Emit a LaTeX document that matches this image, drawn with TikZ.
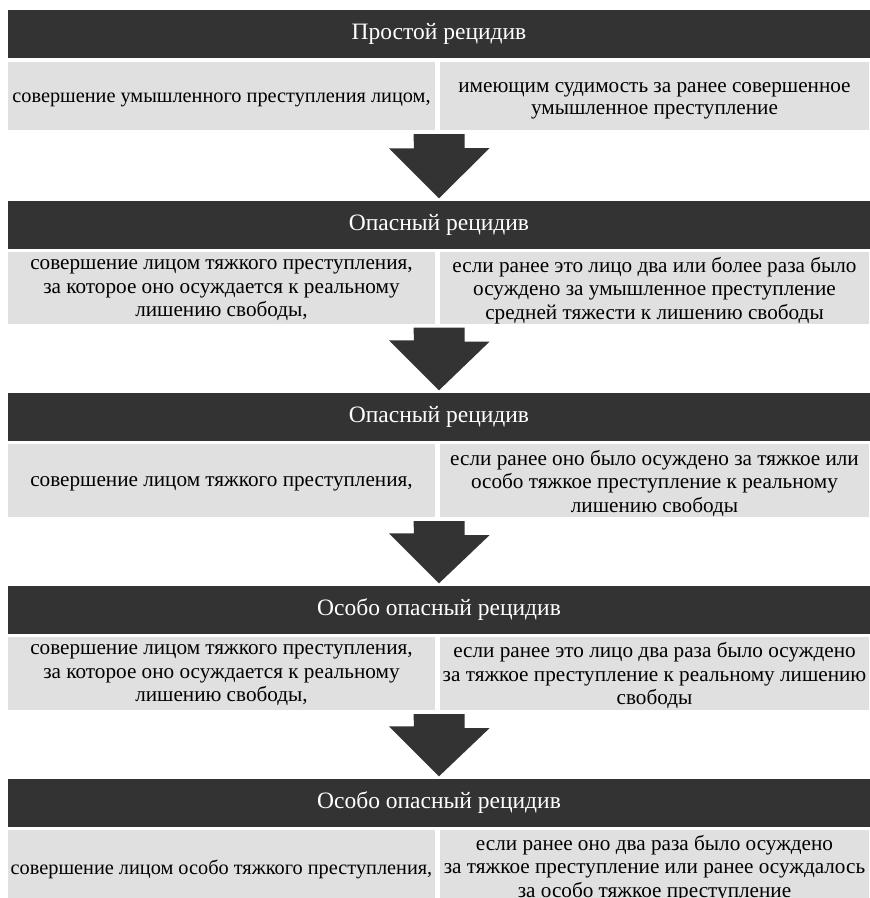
\documentclass[tikz,border=0pt]{standalone}
\usepackage{fontspec}
\setmainfont{Liberation Serif}
\definecolor{darkbar}{HTML}{333333}
\definecolor{cellgray}{HTML}{E0E0E0}
\begin{document}
\begin{tikzpicture}[x=1pt,y=-1pt,
  hdr/.style={fill=darkbar, text=white, inner sep=0pt, minimum width=862pt, minimum height=48pt, font=\fontsize{23.5}{26}\selectfont},
  cellL/.style={fill=cellgray, inner sep=0pt, minimum width=427pt},
  cellR/.style={fill=cellgray, inner sep=0pt, minimum width=429pt},
  celltext/.style={text=black, inner sep=0pt, align=center, font=\fontsize{21.2}{23.5}\selectfont},
  tight/.style={font=\fontsize{20.3}{23.5}\selectfont},
  bigarrow/.style={fill=darkbar}]
\useasboundingbox (0,0) rectangle (870,898);
\begin{scope}
\clip (0,0) rectangle (870,898);
% Row 1
\node[hdr] (h1) at (439,34) {Простой рецидив};
\node[cellL, minimum height=68pt] (l1) at (221.5,96) {};
\node[cellR, minimum height=68pt] (r1) at (654.5,96) {};
\node[celltext, tight] (l1t) at ([yshift=-3.5pt]l1.center) {совершение умышленного преступления лицом,};
\node[celltext, font=\fontsize{21.2}{22}\selectfont] (r1t) at ([yshift=-5pt]r1.center) {имеющим судимость за ранее совершенное\\умышленное преступление};
% Row 2
\node[hdr] (h2) at (439,224.5) {Опасный рецидив};
\node[cellL, minimum height=72pt] (l2) at (221.5,287.5) {};
\node[cellR, minimum height=72pt] (r2) at (654.5,287.5) {};
\node[celltext] (l2t) at ([yshift=-3pt]l2.center) {совершение лицом тяжкого преступления,\\за которое оно осуждается к реальному\\лишению свободы,};
\node[celltext] (r2t) at ([yshift=-3pt]r2.center) {если ранее это лицо два или более раза было\\осуждено за умышленное преступление\\средней тяжести к лишению свободы};
% Row 3
\node[hdr] (h3) at (439,416.5) {Опасный рецидив};
\node[cellL, minimum height=73pt] (l3) at (221.5,480.5) {};
\node[cellR, minimum height=73pt] (r3) at (654.5,480.5) {};
\node[celltext] (l3t) at ([yshift=-3pt]l3.center) {совершение лицом тяжкого преступления,};
\node[celltext] (r3t) at ([yshift=-2.5pt]r3.center) {если ранее оно было осуждено за тяжкое или\\особо тяжкое преступление к реальному\\лишению свободы};
% Row 4
\node[hdr] (h4) at (439,609.5) {Особо опасный рецидив};
\node[cellL, minimum height=73pt] (l4) at (221.5,673.5) {};
\node[cellR, minimum height=73pt] (r4) at (654.5,673.5) {};
\node[celltext] (l4t) at ([yshift=-2pt]l4.center) {совершение лицом тяжкого преступления,\\за которое оно осуждается к реальному\\лишению свободы,};
\node[celltext] (r4t) at ([yshift=-2pt]r4.center) {если ранее это лицо два раза было осуждено\\за тяжкое преступление к реальному лишению\\свободы};
% Row 5
\node[hdr] (h5) at (439,802.5) {Особо опасный рецидив};
\node[cellL, minimum height=74pt] (l5) at (221.5,867) {};
\node[cellR, minimum height=74pt] (r5) at (654.5,867) {};
\node[celltext, tight] (l5t) at ([yshift=-2pt]l5.center) {совершение лицом особо тяжкого преступления,};
\node[celltext] (r5t) at ([yshift=-1.5pt]r5.center) {если ранее оно два раза было осуждено\\за тяжкое преступление или ранее осуждалось\\за особо тяжкое преступление};
\end{scope}
% Arrows between rows
\newcommand\downarrowshape[2]{%
  \coordinate (#1-top) at ([yshift=-4pt]#1.south east);
  \coordinate (#2-tip) at ([yshift=2pt]#2.north);
  \fill[bigarrow] (#2-tip |- #1-top) ++(-25.5,0) -- ++(51,0) -- ++(0,14) -- ++(25,0) -- (#2-tip) -- ++(-50,-50) -- ++(25,0) -- cycle;}
\downarrowshape{l1}{h2}
\downarrowshape{l2}{h3}
\downarrowshape{l3}{h4}
\downarrowshape{l4}{h5}
\end{tikzpicture}
\end{document}
